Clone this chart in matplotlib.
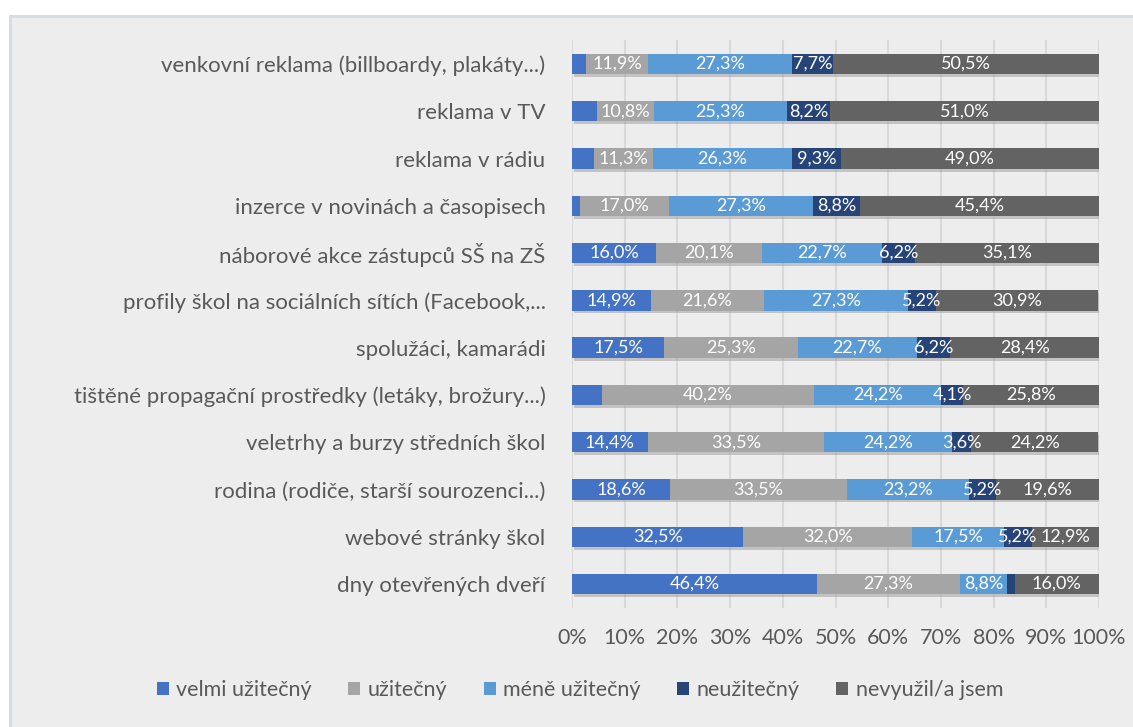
import numpy as np
import matplotlib.pyplot as plt
import matplotlib.patheffects as pe
from matplotlib.patches import Rectangle

plt.rcParams['font.family'] = ['Lato', 'DejaVu Sans']

categories = [
    'venkovní reklama (billboardy, plakáty...)',
    'reklama v TV',
    'reklama v rádiu',
    'inzerce v novinách a časopisech',
    'náborové akce zástupců SŠ na ZŠ',
    'profily škol na sociálních sítích (Facebook,...',
    'spolužáci, kamarádi',
    'tištěné propagační prostředky (letáky, brožury...)',
    'veletrhy a burzy středních škol',
    'rodina (rodiče, starší sourozenci...)',
    'webové stránky škol',
    'dny otevřených dveří',
]

velmi = [2.6, 4.7, 4.1, 1.5, 16.0, 14.9, 17.5, 5.7, 14.4, 18.6, 32.5, 46.4]
uzitecny = [11.9, 10.8, 11.3, 17.0, 20.1, 21.6, 25.3, 40.2, 33.5, 33.5, 32.0, 27.3]
mene = [27.3, 25.3, 26.3, 27.3, 22.7, 27.3, 22.7, 24.2, 24.2, 23.2, 17.5, 8.8]
neuzitecny = [7.7, 8.2, 9.3, 8.8, 6.2, 5.2, 6.2, 4.1, 3.6, 5.2, 5.2, 1.5]
nevyuzil = [50.5, 51.0, 49.0, 45.4, 35.1, 30.9, 28.4, 25.8, 24.2, 19.6, 12.9, 16.0]

series_names = ['velmi užitečný', 'užitečný', 'méně užitečný', 'neužitečný', 'nevyužil/a jsem']
series_vals = [velmi, uzitecny, mene, neuzitecny, nevyuzil]
colors = ['#4472C4', '#A5A5A5', '#5B9BD5', '#264478', '#636363']

# segments whose labels are not shown in the original
hidden = {(0, 0), (0, 1), (0, 2), (0, 3), (0, 7), (3, 11)}

fig = plt.figure(figsize=(11.33, 7.27), dpi=100)
fig.patch.set_facecolor('white')
bg = Rectangle((10 / 1133, -0.05), 1.1, 1 - 16 / 727 + 0.05,
               transform=fig.transFigure, facecolor='#EDEDED',
               edgecolor='#D5DBE3', linewidth=2, zorder=-5)
fig.add_artist(bg)

ax = fig.add_axes([572 / 1133, 1 - 607.6 / 727, 527 / 1133, 567.2 / 727])
ax.set_facecolor('none')
ax.set_zorder(2)

y = np.arange(len(categories))
left = np.zeros(len(categories))
shadow = [pe.SimplePatchShadow(offset=(1.5, -2), shadow_rgbFace='#9a9a9a', alpha=0.5), pe.Normal()]
for s, (name, vals, c) in enumerate(zip(series_names, series_vals, colors)):
    vals = np.array(vals)
    bars = ax.barh(y, vals, left=left, height=0.43, color=c, label=name, zorder=3)
    for b in bars:
        b.set_path_effects(shadow)
    for i, v in enumerate(vals):
        if (s, i) in hidden:
            continue
        ax.text(left[i] + v / 2, y[i], f'{v:.1f}%'.replace('.', ','), ha='center', va='center',
                color='white', fontsize=13, zorder=5)
    left += vals

ax.set_xlim(0, 100)
ax.set_ylim(len(categories) - 0.5, -0.5)
ax.set_yticks(y)
ax.set_yticklabels(categories, fontsize=16, color='#595959')
ax.set_xticks(np.arange(0, 101, 10))
ax.set_xticklabels([f'{t}%' for t in range(0, 101, 10)], fontsize=15.5, color='#595959')
ax.tick_params(length=0, axis='both')
ax.tick_params(axis='y', pad=19)
ax.tick_params(axis='x', pad=15)
ax.grid(axis='x', color='#D9D9D9', linewidth=1.5, zorder=0)
ax.set_axisbelow(True)
for sp in ax.spines.values():
    sp.set_visible(False)

handles, labels = ax.get_legend_handles_labels()
leg = fig.legend(handles, labels, loc='center', bbox_to_anchor=(580 / 1133, 1 - 690 / 727), ncol=5,
                 frameon=False, fontsize=15.5, labelcolor='#595959', handlelength=0.55, handleheight=0.55,
                 handletextpad=0.35, columnspacing=1.7)
for h in leg.legend_handles:
    h.set_path_effects([])

fig.savefig('out.png', dpi=100)
